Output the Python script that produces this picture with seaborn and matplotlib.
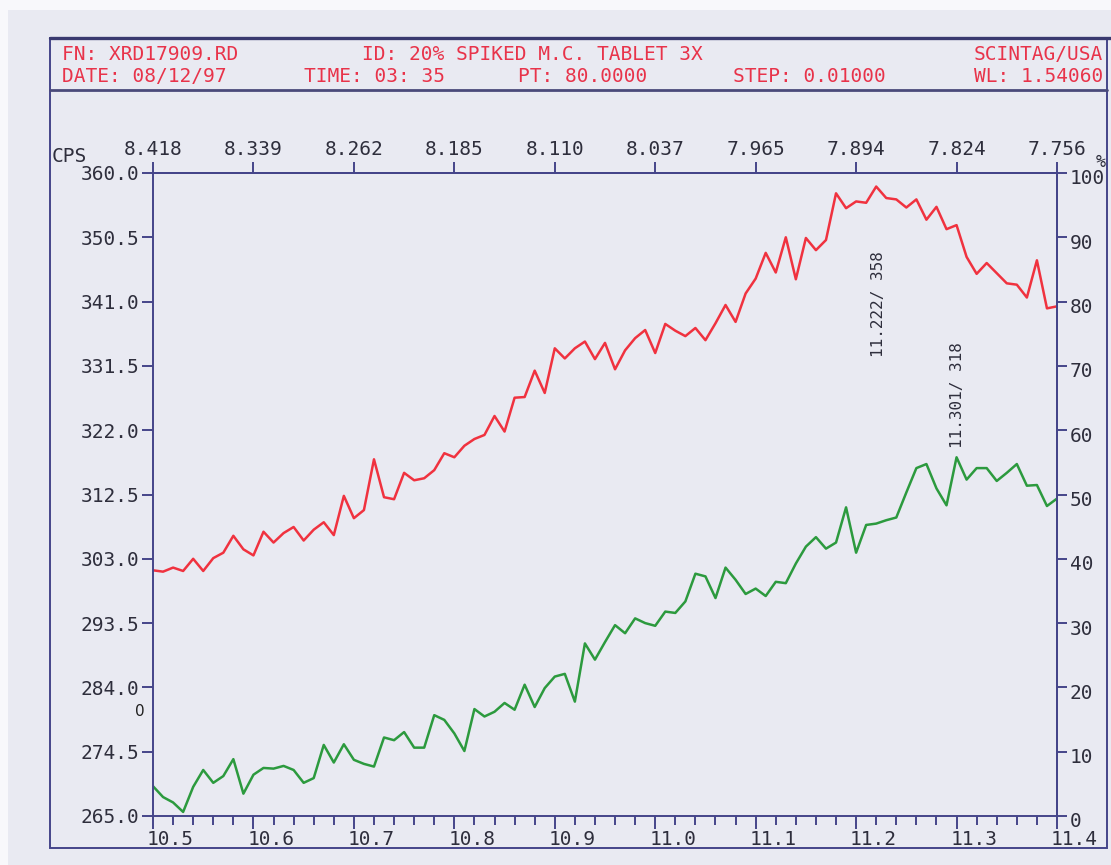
import numpy as np
import pandas as pd
import matplotlib
matplotlib.use("Agg")
import matplotlib.pyplot as plt
import matplotlib.transforms as mtransforms
from matplotlib.patches import Rectangle
from matplotlib.lines import Line2D
import seaborn as sns

# ---- scan data: 2-theta from 10.50 in 0.01 steps, counts per second ----
scan_start = 10.50
scan_step = 0.01

upper_cps = [
    301.3, 301.1, 301.7, 301.2, 303.0, 301.2, 303.1, 303.9, 306.4, 304.4,
    303.5, 307.0, 305.4, 306.8, 307.7, 305.7, 307.3, 308.4, 306.5, 312.3,
    309.0, 310.2, 317.7, 312.1, 311.8, 315.7, 314.6, 314.9, 316.1, 318.6,
    318.0, 319.7, 320.7, 321.3, 324.1, 321.8, 326.8, 326.9, 330.8, 327.5,
    334.1, 332.6, 334.1, 335.1, 332.5, 334.9, 331.0, 333.8, 335.6, 336.8,
    333.4, 337.7, 336.7, 335.9, 337.1, 335.3, 337.8, 340.5, 338.0, 342.2,
    344.4, 348.2, 345.3, 350.5, 344.3, 350.4, 348.6, 350.1, 357.0, 354.8,
    355.8, 355.6, 358.0, 356.3, 356.1, 354.9, 356.1, 353.1, 355.0, 351.7,
    352.3, 347.6, 345.1, 346.7, 345.2, 343.7, 343.5, 341.6, 347.1, 340.0,
    340.3,
]

lower_cps = [
    269.4, 267.8, 267.0, 265.6, 269.3, 271.8, 269.9, 270.9, 273.4, 268.3,
    271.1, 272.1, 272.0, 272.4, 271.8, 269.9, 270.6, 275.5, 272.9, 275.6,
    273.3, 272.7, 272.3, 276.6, 276.2, 277.4, 275.1, 275.1, 279.9, 279.2,
    277.2, 274.6, 280.8, 279.7, 280.4, 281.7, 280.7, 284.4, 281.1, 283.9,
    285.6, 286.0, 281.9, 290.5, 288.1, 290.7, 293.2, 292.0, 294.2, 293.5,
    293.1, 295.2, 295.0, 296.7, 300.8, 300.4, 297.2, 301.7, 299.9, 297.8,
    298.6, 297.5, 299.6, 299.4, 302.3, 304.8, 306.2, 304.5, 305.4, 310.6,
    303.9, 308.0, 308.2, 308.7, 309.1, 312.8, 316.4, 317.0, 313.4, 310.9,
    318.0, 314.7, 316.4, 316.4, 314.5, 315.7, 317.0, 313.8, 313.9, 310.8,
    311.9,
]

# peak labels (2-theta, cps)
upper_peak = (11.222, 358)
lower_peak = (11.301, 318)

# ---- axis scales ----
cps_ticks = [265.0, 274.5, 284.0, 293.5, 303.0, 312.5, 322.0, 331.5, 341.0, 350.5, 360.0]
pct_ticks = [0, 10, 20, 30, 40, 50, 60, 70, 80, 90, 100]
theta_ticks = [10.5, 10.6, 10.7, 10.8, 10.9, 11.0, 11.1, 11.2, 11.3, 11.4]
theta_labels = ["10.5", "10.6", "10.7", "10.8", "10.9", "11.0", "11.1", "11.2", "11.3", "11.4"]
d_labels = ["8.418", "8.339", "8.262", "8.185", "8.110", "8.037", "7.965", "7.894", "7.824", "7.756"]

# ---- header fields ----
header_row1 = [("FN: XRD17909.RD", 62, "left"),
               ("ID: 20% SPIKED M.C. TABLET 3X", 362, "left"),
               ("SCINTAG/USA", 1103, "right")]
header_row2 = [("DATE: 08/12/97", 62, "left"),
               ("TIME: 03: 35", 304, "left"),
               ("PT: 80.0000", 518, "left"),
               ("STEP: 0.01000", 733, "left"),
               ("WL: 1.54060", 1103, "right")]

n = len(upper_cps)
two_theta = np.round(scan_start + scan_step * np.arange(n), 2)
df = pd.DataFrame({
    "two_theta": np.concatenate([two_theta, two_theta]),
    "cps": upper_cps + lower_cps,
    "scan": ["upper"] * n + ["lower"] * n,
})

sns.set_theme(style="ticks")
MONO = ["DejaVu Sans Mono"]
plt.rcParams["font.family"] = MONO
plt.rcParams["xtick.bottom"] = True
plt.rcParams["ytick.left"] = True

PAPER = "#e9eaf2"
MARGIN = "#f8f8fb"
AXIS = "#45458a"
TEXT = "#2e2e3c"
HEAD_RED = "#e8334a"
LINE_RED = "#f0323f"
LINE_GREEN = "#2c9a3e"

W, H = 1111, 865
fig = plt.figure(figsize=(W / 100, H / 100), dpi=100)
fig.patch.set_facecolor(PAPER)


def fx(px):
    return px / W


def fy(py):
    return 1 - py / H


# light margins of the sheet
fig.add_artist(Rectangle((0, fy(10)), 1, 1 - fy(10), transform=fig.transFigure,
                         fc=MARGIN, ec="none", zorder=0))
fig.add_artist(Rectangle((0, 0), fx(8), 1, transform=fig.transFigure,
                         fc=MARGIN, ec="none", zorder=0))

# outer frame and header box
fig.add_artist(Rectangle((fx(50), fy(848)), fx(1107) - fx(50), fy(38) - fy(848),
                         transform=fig.transFigure, fill=False, ec=AXIS, lw=1.4))
fig.add_artist(Line2D([fx(50), 1.0], [fy(38), fy(38)], transform=fig.transFigure,
                      color="#3a3a70", lw=2.4))
fig.add_artist(Line2D([fx(50), fx(1107)], [fy(90), fy(90)], transform=fig.transFigure,
                      color="#4a4a7a", lw=2.0))

for label, x, ha in header_row1:
    fig.text(fx(x), fy(54), label, ha=ha, va="center", fontsize=14, color=HEAD_RED)
for label, x, ha in header_row2:
    fig.text(fx(x), fy(76), label, ha=ha, va="center", fontsize=14, color=HEAD_RED)

# plotting area
ax = fig.add_axes([fx(153), fy(816), fx(1057) - fx(153), fy(173) - fy(816)])
ax.set_facecolor("none")

sns.lineplot(data=df, x="two_theta", y="cps", hue="scan",
             palette={"upper": LINE_RED, "lower": LINE_GREEN},
             legend=False, linewidth=1.8, ax=ax)

ax.set_xlim(10.5, 11.4)
ax.set_ylim(265, 360)
ax.set_xlabel("")
ax.set_ylabel("")

for side in ["left", "right", "top", "bottom"]:
    ax.spines[side].set_visible(True)
    ax.spines[side].set_color(AXIS)
    ax.spines[side].set_linewidth(1.4)

ax.set_yticks(cps_ticks, labels=[f"{v:.1f}" for v in cps_ticks])
ax.set_xticks(theta_ticks, labels=theta_labels)
ax.set_xticks(np.arange(10.5, 11.4001, 0.02), minor=True)
ax.tick_params(axis="y", which="major", left=True, right=False, direction="out",
               length=8, width=1.4, color=AXIS, labelcolor=TEXT, labelsize=14, pad=2)
ax.tick_params(axis="x", which="major", bottom=True, top=False, direction="out",
               length=9, width=1.4, color=AXIS, labelcolor=TEXT, labelsize=14, pad=1)
ax.tick_params(axis="x", which="minor", bottom=True, top=False, direction="out",
               length=6.5, width=1.4, color=AXIS)

shift_left = mtransforms.ScaledTranslation(-6 / 100, 0, fig.dpi_scale_trans)
for lbl in ax.get_xticklabels():
    lbl.set_horizontalalignment("left")
    lbl.set_transform(lbl.get_transform() + shift_left)

# d-spacing scale on top
top = ax.secondary_xaxis("top")
top.set_xticks(theta_ticks, labels=d_labels)
top.tick_params(top=True, direction="out", length=8, width=1.4, color=AXIS,
                labelcolor=TEXT, labelsize=14, pad=2)
top.spines["top"].set_color(AXIS)
top.spines["top"].set_linewidth(1.4)

# relative intensity scale on the right
right = ax.secondary_yaxis("right", functions=(lambda c: (c - 265) / 95 * 100,
                                                lambda p: 265 + p * 95 / 100))
right.set_yticks(pct_ticks, labels=[str(v) for v in pct_ticks])
right.tick_params(right=True, direction="out", length=7, width=1.4, color=AXIS,
                  labelcolor=TEXT, labelsize=14, pad=2)
right.spines["right"].set_color(AXIS)
right.spines["right"].set_linewidth(1.4)
shift_down = mtransforms.ScaledTranslation(0, -4 / 100, fig.dpi_scale_trans)
for lbl in right.get_yticklabels():
    lbl.set_transform(lbl.get_transform() + shift_down)

fig.text(fx(52), fy(156), "CPS", ha="left", va="center", fontsize=14, color=TEXT)
fig.text(fx(1101), fy(162), "%", ha="center", va="center", fontsize=12, color=TEXT)
fig.text(fx(140), fy(712), "0", ha="center", va="center", fontsize=11,
         family="DejaVu Sans", color="#202020")

# peak markers
ax.text(upper_peak[0], 340.7, f"{upper_peak[0]:.3f}/ {upper_peak[1]}",
        rotation=90, ha="center", va="center", fontsize=11.5, color=TEXT)
ax.text(lower_peak[0], 327.2, f"{lower_peak[0]:.3f}/ {lower_peak[1]}",
        rotation=90, ha="center", va="center", fontsize=11.5, color=TEXT)

fig.savefig("out.png", dpi=100, facecolor=fig.get_facecolor())
